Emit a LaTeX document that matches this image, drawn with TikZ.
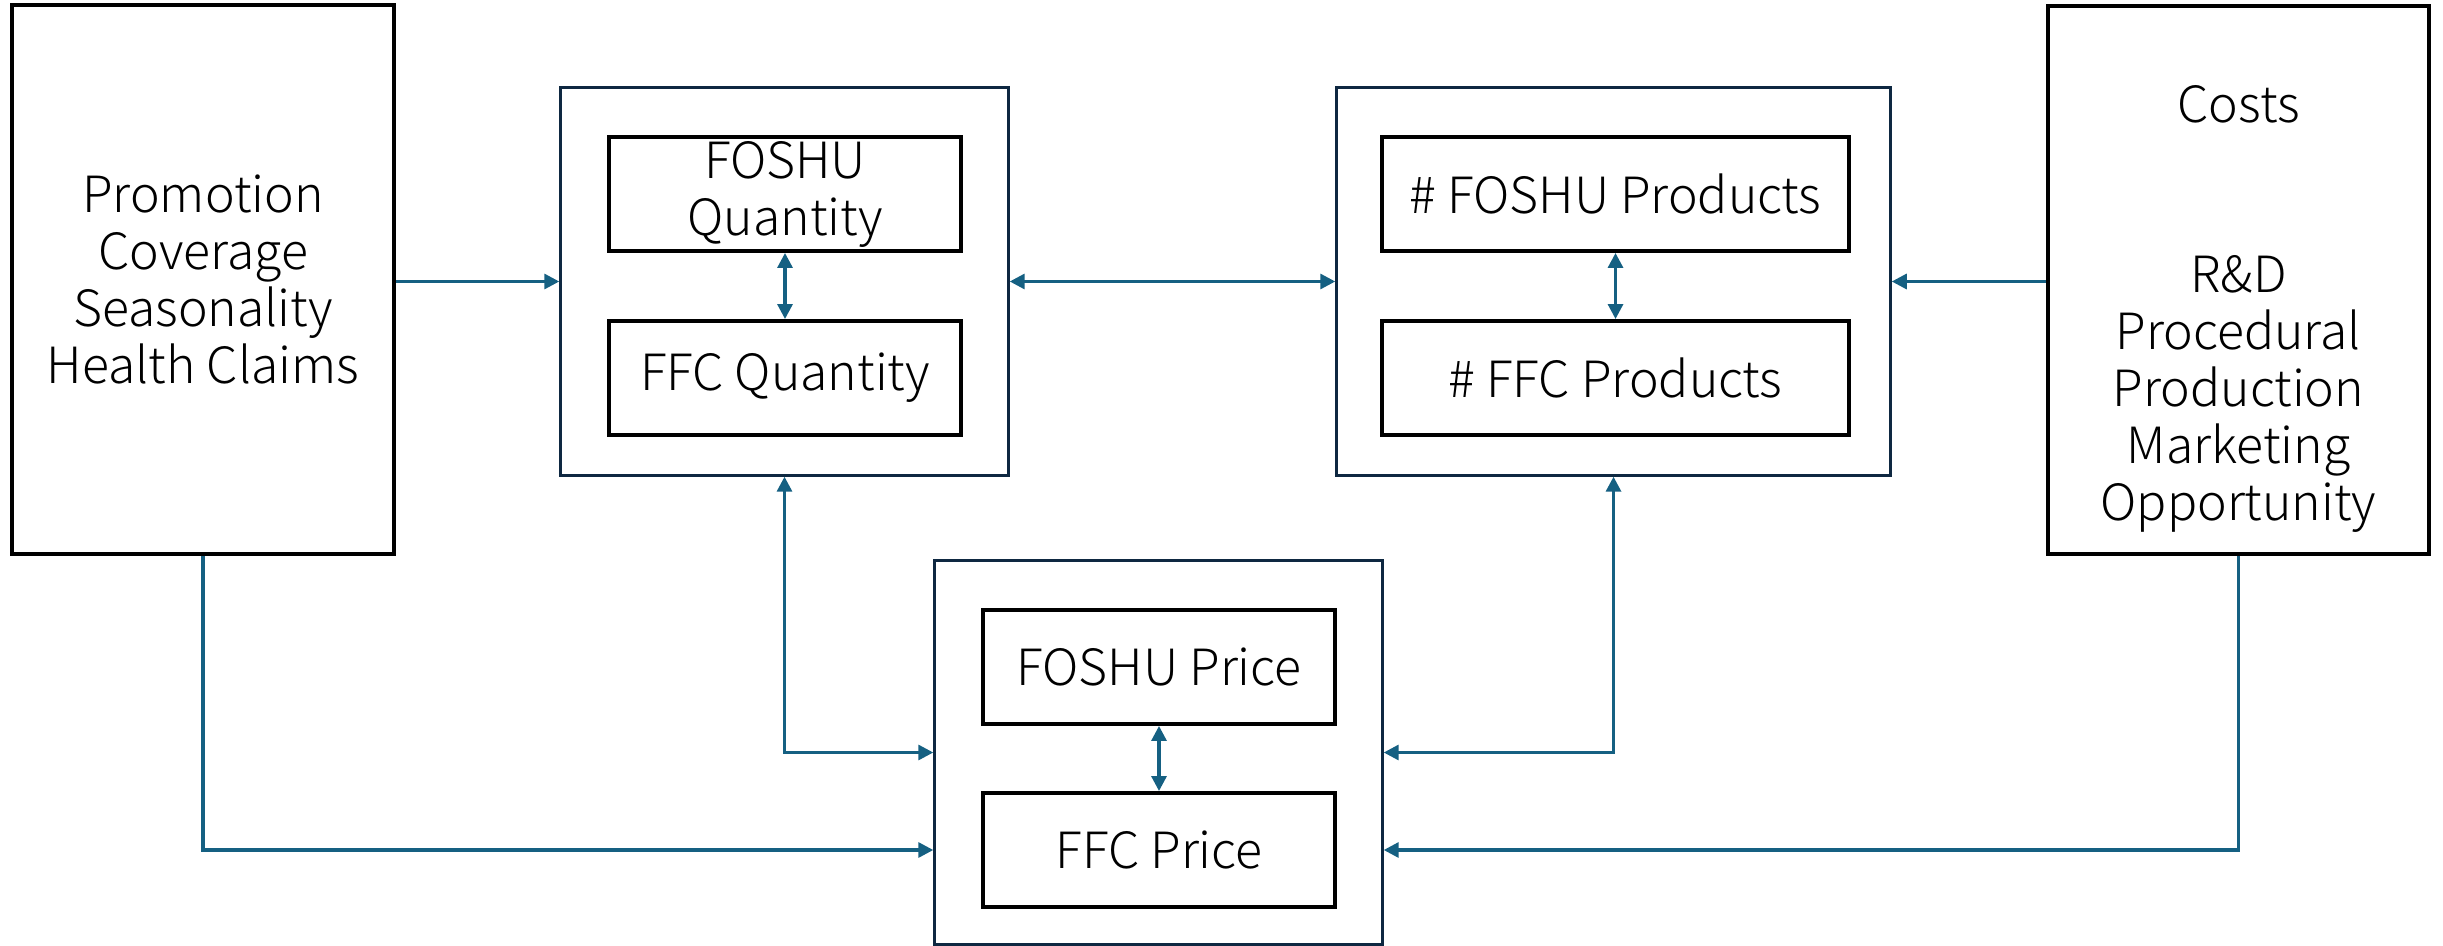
\documentclass[tikz,border=0pt]{standalone}
\usepackage{fontspec}
\setmainfont{Noto Sans CJK JP}[UprightFont={* Light}]
\usepackage{xcolor}
\usetikzlibrary{positioning,arrows.meta,calc}
\definecolor{linkblue}{HTML}{156082}
\definecolor{framenavy}{HTML}{0E2841}

\begin{document}
\begin{tikzpicture}[x=0.01cm,y=-0.01cm,
  font=\fontsize{14.2}{16.2}\selectfont,
  sidebox/.style={draw=black,line width=1pt,inner sep=0pt,align=center},
  groupbox/.style={draw=framenavy,line width=0.9pt,inner sep=0pt},
  varbox/.style={draw=black,line width=1.1pt,inner sep=0pt,align=center,
    minimum height=1.14cm},
  link/.style={draw=linkblue,line width=0.9pt,-{Triangle[length=0.15cm,width=0.15cm]}},
  twoway/.style={link,{Triangle[length=0.15cm,width=0.15cm]}-{Triangle[length=0.15cm,width=0.15cm]}}]
\useasboundingbox (0,0) rectangle (2443,946);
% Side factors
\node[sidebox,minimum width=3.82cm,minimum height=5.49cm] (drivers) at (203,279.5)
  {Promotion\\Coverage\\Seasonality\\Health Claims};
\node[sidebox,minimum width=3.81cm,minimum height=5.48cm] (costs) at (2238.5,280) {};
\node[align=center] (costlist) at (2238.5,309)
  {Costs\\[32pt]R\&D\\Procedural\\Production\\Marketing\\Opportunity};
% Quantity group
\node[groupbox,minimum width=4.47cm,minimum height=3.87cm] (qgroup) at (784.5,281.5) {};
\node[varbox,minimum width=3.52cm] (fq) at (785,194) {FOSHU\\Quantity};
\node[varbox,minimum width=3.52cm] (cq) at (785,378) {FFC Quantity};
% Products group
\node[groupbox,minimum width=5.53cm,minimum height=3.87cm] (pgroup) at (1613.5,281.5) {};
\node[varbox,minimum width=4.67cm] (fp) at (1615.5,194) {\# FOSHU Products};
\node[varbox,minimum width=4.67cm] (cp) at (1615.5,378) {\# FFC Products};
% Price group
\node[groupbox,minimum width=4.47cm,minimum height=3.83cm] (rgroup) at (1158.5,752.5) {};
\node[varbox,minimum width=3.52cm] (fr) at (1159,667) {FOSHU Price};
\node[varbox,minimum width=3.52cm] (cr) at (1159,850) {FFC Price};
% FOSHU <-> FFC inside each group
\draw[twoway] (fq) -- (cq);
\draw[twoway] (fp) -- (cp);
\draw[twoway] (fr) -- (cr);
% links between groups
\draw[link] (drivers.east |- qgroup.west) -- (qgroup.west);
\draw[twoway] (qgroup) -- (pgroup);
\draw[link] (costs.west |- pgroup.east) -- (pgroup.east);
\draw[twoway] (qgroup.south) |- (rgroup.west);
\draw[twoway] (pgroup.south) |- (rgroup.east);
\draw[link] (drivers.south) |- (rgroup.west |- cr);
\draw[link] (costs.south) |- (rgroup.east |- cr);
\end{tikzpicture}
\end{document}
